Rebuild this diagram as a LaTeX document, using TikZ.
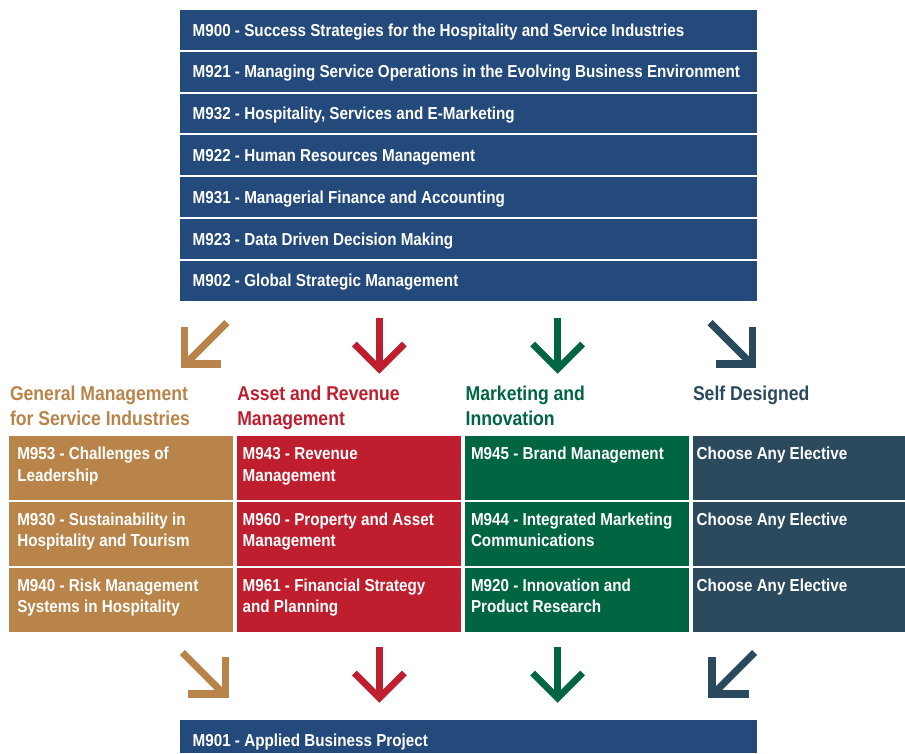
\documentclass[tikz,border=0pt]{standalone}
\usepackage{fontspec}
\setmainfont{Liberation Sans}[FakeStretch=0.88]
\definecolor{navyc}{HTML}{234A7B}
\definecolor{goldc}{HTML}{B8844A}
\definecolor{redc}{HTML}{BE1E2E}
\definecolor{greenc}{HTML}{006642}
\definecolor{slatec}{HTML}{2C4A5D}
\newcommand{\cellfont}{\fontsize{17.3}{21.6}\selectfont\bfseries}
\newcommand{\headfont}{\fontsize{20}{24.3}\selectfont\bfseries}
\begin{document}
\begin{tikzpicture}[x=1pt,y=-1pt,
  box/.style={draw=none, inner sep=0pt, outer sep=0pt, anchor=north west},
  topbox/.style={box, fill=navyc, minimum width=577pt, minimum height=39.7pt},
  cell/.style={box, minimum width=224.3pt, minimum height=63.8pt},
  lbl/.style={anchor=base west, inner sep=0pt, outer sep=0pt, text=white, font=\cellfont, align=left},
  head/.style={anchor=base west, inner sep=0pt, outer sep=0pt, font=\headfont, align=left},
  larr/.style={line width=7.2pt, line cap=butt, line join=miter},
  sarr/.style={line width=6.7pt, line cap=butt, line join=miter}]
\fill[white] (0,0) rectangle (905,753);
\useasboundingbox (0,0) rectangle (905,753);
% top course boxes
\node[topbox] (b900) at (180,10) {};
\node[topbox] (b921) at (180,51.8) {};
\node[topbox] (b932) at (180,93.6) {};
\node[topbox] (b922) at (180,135.4) {};
\node[topbox] (b931) at (180,177.2) {};
\node[topbox] (b923) at (180,219) {};
\node[topbox] (b902) at (180,260.8) {};
\node[lbl] (t900) at (192.7,36) {M900 - Success Strategies for the Hospitality and Service Industries};
\node[lbl] (t921) at (192.7,77.8) {M921 - Managing Service Operations in the Evolving Business Environment};
\node[lbl] (t932) at (192.7,119.6) {M932 - Hospitality, Services and E-Marketing};
\node[lbl] (t922) at (192.7,161.4) {M922 - Human Resources Management};
\node[lbl] (t931) at (192.7,203.2) {M931 - Managerial Finance and Accounting};
\node[lbl] (t923) at (192.7,245) {M923 - Data Driven Decision Making};
\node[lbl] (t902) at (192.7,286.8) {M902 - Global Strategic Management};
% top arrows
\draw[larr, goldc] (184.3,327) -- (184.3,364) -- (221.3,364);
\draw[larr, goldc] (227,322.5) -- (187,362.5);
\draw[sarr, redc] (379.3,318) -- (379.3,369);
\draw[sarr, redc] (354.3,344) -- (379.3,369) -- (404.3,344);
\draw[sarr, greenc] (557.7,318) -- (557.7,369);
\draw[sarr, greenc] (532.7,344) -- (557.7,369) -- (582.7,344);
\draw[larr, slatec] (752.7,327) -- (752.7,364) -- (715.7,364);
\draw[larr, slatec] (710,322.5) -- (750,362.5);
% headers (multi-line nodes: base = last line)
\node[head, text=goldc] (h1) at (10,425) {General Management\\for Service Industries};
\node[head, text=redc] (h2) at (237.3,425) {Asset and Revenue\\Management};
\node[head, text=greenc] (h3) at (465.7,425) {Marketing and\\Innovation};
\node[head, text=slatec] (h4) at (693,400.7) {Self Designed};
% grid cells
\node[cell, fill=goldc] (c11) at (9,436) {};
\node[cell, fill=goldc] (c21) at (9,501.7) {};
\node[cell, fill=goldc] (c31) at (9,567.7) {};
\node[cell, fill=redc] (c12) at (236.7,436) {};
\node[cell, fill=redc] (c22) at (236.7,501.7) {};
\node[cell, fill=redc] (c32) at (236.7,567.7) {};
\node[cell, fill=greenc] (c13) at (465,436) {};
\node[cell, fill=greenc] (c23) at (465,501.7) {};
\node[cell, fill=greenc] (c33) at (465,567.7) {};
\node[cell, fill=slatec, minimum width=212pt] (c14) at (693,436) {};
\node[cell, fill=slatec, minimum width=212pt] (c24) at (693,501.7) {};
\node[cell, fill=slatec, minimum width=212pt] (c34) at (693,567.7) {};
\node[lbl] (l11) at (17.3,481.1) {M953 - Challenges of\\Leadership};
\node[lbl] (l21) at (17.3,546.8) {M930 - Sustainability in\\Hospitality and Tourism};
\node[lbl] (l31) at (17.3,612.8) {M940 - Risk Management\\Systems in Hospitality};
\node[lbl] (l12) at (242.7,481.1) {M943 - Revenue\\Management};
\node[lbl] (l22) at (242.7,546.8) {M960 - Property and Asset\\Management};
\node[lbl] (l32) at (242.7,612.8) {M961 - Financial Strategy\\and Planning};
\node[lbl] (l13) at (471,459.5) {M945 - Brand Management};
\node[lbl] (l23) at (471,546.8) {M944 - Integrated Marketing\\Communications};
\node[lbl] (l33) at (471,612.8) {M920 - Innovation and\\Product Research};
\node[lbl] (l14) at (696.7,459.5) {Choose Any Elective};
\node[lbl] (l24) at (696.7,525.2) {Choose Any Elective};
\node[lbl] (l34) at (696.7,591.2) {Choose Any Elective};
% bottom arrows
\draw[larr, goldc] (225.1,657) -- (225.1,694) -- (188.1,694);
\draw[larr, goldc] (182.4,652.5) -- (222.4,692.5);
\draw[sarr, redc] (379.3,647) -- (379.3,698);
\draw[sarr, redc] (354.3,673) -- (379.3,698) -- (404.3,673);
\draw[sarr, greenc] (557.7,647) -- (557.7,698);
\draw[sarr, greenc] (532.7,673) -- (557.7,698) -- (582.7,673);
\draw[larr, slatec] (711.9,657) -- (711.9,694) -- (748.9,694);
\draw[larr, slatec] (754.6,652.5) -- (714.6,692.5);
% final project
\node[box, fill=navyc, minimum width=577pt, minimum height=33pt] (b901) at (180,720) {};
\node[lbl] (t901) at (192.7,746) {M901 - Applied Business Project};
\end{tikzpicture}
\end{document}
